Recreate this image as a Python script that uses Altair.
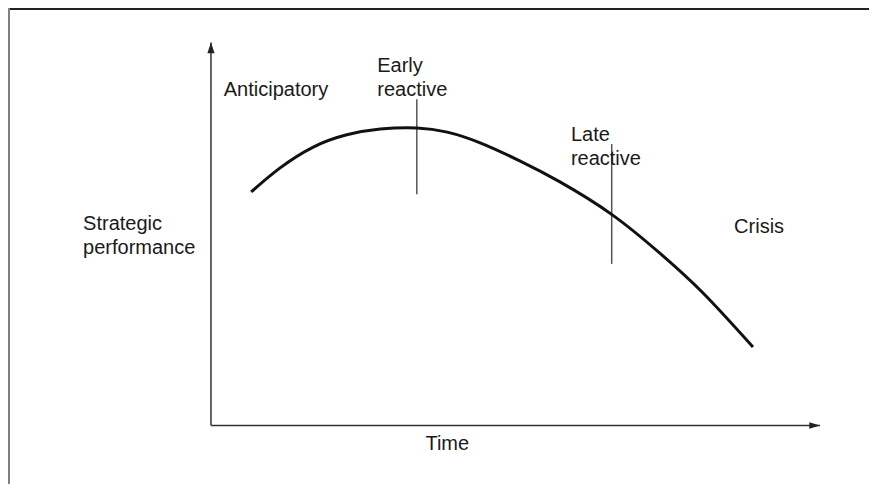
import altair as alt
import pandas as pd

# ---- data (time units 0..100 along the x-axis, performance units 0..100 up the y-axis)
curve_time = [6.6, 11.3, 16.8, 22.3, 27.8, 33.8, 38.8, 44.2, 50.7, 57.3, 65.9, 73.7, 80.8, 89.0]
curve_perf = [61.0, 67.2, 72.7, 75.9, 77.4, 77.7, 76.6, 73.8, 69.1, 63.6, 55.0, 45.0, 34.6, 20.5]

marker_names = ["Early reactive", "Late reactive"]
marker_time = [33.8, 65.8]
marker_low = [60.4, 42.2]
marker_high = [85.2, 73.5]

label_text = ["Anticipatory", "Early\nreactive", "Late\nreactive", "Crisis", "Strategic\nperformance"]
label_time = [2.1, 27.3, 59.1, 85.9, -21.0]
label_perf = [86.1, 92.4, 74.3, 50.3, 51.0]

axis_title = ["Time"]
axis_title_time = [38.8]
axis_title_perf = [-6.4]

axis_seg_x = [0, 0]
axis_seg_y = [0, 0]
axis_seg_x2 = [0, 100]
axis_seg_y2 = [100, 0]

W, H = 861, 476
x_dom = [-33.33, 108.05]
y_dom = [-15.27, 109.01]

xs = alt.Scale(domain=x_dom, zero=False, nice=False)
ys = alt.Scale(domain=y_dom, zero=False, nice=False)

curve_df = pd.DataFrame({"t": curve_time, "v": curve_perf})
marker_df = pd.DataFrame({"name": marker_names, "t": marker_time, "lo": marker_low, "hi": marker_high})
label_df = pd.DataFrame({"text": label_text, "t": label_time, "v": label_perf})
title_df = pd.DataFrame({"text": axis_title, "t": axis_title_time, "v": axis_title_perf})
axes_df = pd.DataFrame({"x": axis_seg_x, "y": axis_seg_y, "x2": axis_seg_x2, "y2": axis_seg_y2})
arrow_df = pd.DataFrame({
    "t": [0, 100], "v": [100, 0],
    "shape": ["M0,0L0.68,2L-0.68,2Z", "M0,0L-2,-0.59L-2,0.59Z"],
})

FONT = "Liberation Sans"
TXT = "#1a1a1a"

frame_top = alt.Chart(pd.DataFrame({"a": [0]})).mark_rule(color="#222222", strokeWidth=2).encode(
    x=alt.value(0), x2=alt.value(W), y=alt.value(1))
frame_left = alt.Chart(pd.DataFrame({"a": [0]})).mark_rule(color="#808080", strokeWidth=2).encode(
    x=alt.value(1), y=alt.value(0), y2=alt.value(H))

axes = alt.Chart(axes_df).mark_rule(color="#333333", strokeWidth=1.5).encode(
    x=alt.X("x:Q", scale=xs, axis=None), y=alt.Y("y:Q", scale=ys, axis=None),
    x2="x2:Q", y2="y2:Q")

arrows = alt.Chart(arrow_df).mark_point(filled=True, color="#222222", opacity=1, size=114).encode(
    x=alt.X("t:Q", scale=xs, axis=None), y=alt.Y("v:Q", scale=ys, axis=None),
    shape=alt.Shape("shape:N", scale=None, legend=None))

markers = alt.Chart(marker_df).mark_rule(color="#555555", strokeWidth=1.5).encode(
    x=alt.X("t:Q", scale=xs, axis=None), y=alt.Y("lo:Q", scale=ys, axis=None), y2="hi:Q")

line = alt.Chart(curve_df).mark_line(color="#111111", strokeWidth=3, interpolate="natural").encode(
    x=alt.X("t:Q", scale=xs, axis=None), y=alt.Y("v:Q", scale=ys, axis=None))

labels = alt.Chart(label_df).mark_text(
    font=FONT, fontSize=20, color=TXT, align="left", baseline="alphabetic",
    lineBreak="\n", lineHeight=24).encode(
    x=alt.X("t:Q", scale=xs, axis=None), y=alt.Y("v:Q", scale=ys, axis=None), text="text:N")

title = alt.Chart(title_df).mark_text(
    font=FONT, fontSize=20, color=TXT, align="center", baseline="alphabetic").encode(
    x=alt.X("t:Q", scale=xs, axis=None), y=alt.Y("v:Q", scale=ys, axis=None), text="text:N")

chart = alt.layer(frame_top, frame_left, axes, markers, line, arrows, labels, title).properties(
    width=W, height=H, padding=0, autosize=alt.AutoSizeParams(type="none"), background="white"
).configure_view(stroke=None)

chart.save("out.html", embed_options={"renderer": "svg", "actions": False})
